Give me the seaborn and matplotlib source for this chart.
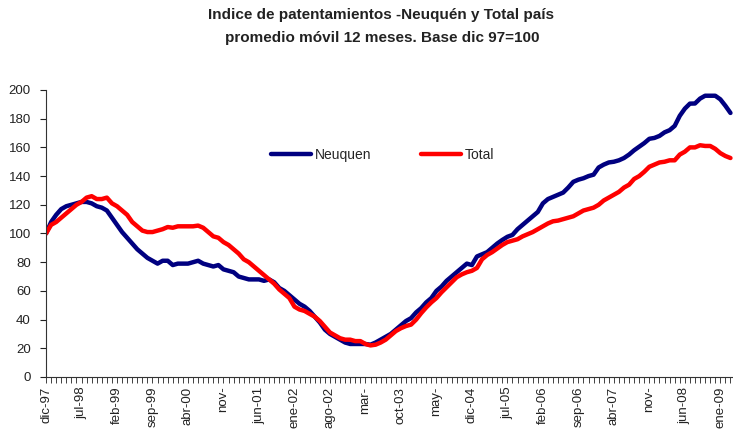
import pandas as pd
import numpy as np
import matplotlib.pyplot as plt
import seaborn as sns

sns.set_style('white')
plt.rcParams['font.family'] = ['Liberation Sans', 'DejaVu Sans']

# indice mensual, dic-97 = 100 (promedio movil 12 meses), dic-97 .. mar-09
neuquen = [100, 108, 113, 117, 119, 120, 121, 122, 122, 121, 119, 118, 116, 111, 106, 101,
           97, 93, 89, 86, 83, 81, 79, 81, 81, 78, 79, 79, 79, 80, 81, 79,
           78, 77, 78, 75, 74, 73, 70, 69, 68, 68, 68, 67, 68, 66, 62, 60,
           57, 54, 51, 49, 46, 42, 38, 33, 30, 28, 26, 24, 23, 23, 23, 23,
           22.5, 24, 26, 28, 30, 33, 36, 39, 41, 45, 48, 52, 55, 60, 63, 67,
           70, 73, 76, 79, 78, 84, 85.5, 87, 90, 93, 95.5, 97.7, 99, 103, 106, 109,
           112, 115, 121, 124, 125.5, 127, 128.5, 132, 136, 137.5, 138.5, 140, 141, 146, 148, 149.5,
           150, 151, 152.6, 155, 158, 160.5, 163, 166, 166.6, 168, 170.5, 172, 175, 182, 187, 190.5,
           190.6, 194, 196, 196, 196, 193.5, 189, 184]
total = [100, 106, 108, 111, 114, 117, 120, 122, 125, 126, 124, 124, 125, 121, 119, 116,
         113, 108, 105, 102, 101, 101, 102, 103, 104.5, 104, 105, 105, 105, 105, 105.5, 104,
         101, 98, 97, 94, 92, 89, 86, 82, 80, 77, 74, 71, 68, 65, 61, 58,
         55, 49, 47, 46, 44, 42, 39, 35, 31, 29, 27, 26, 26, 25, 25, 23,
         22, 22.5, 24, 26, 29, 32, 34, 35.5, 36.5, 40, 44.5, 48.5, 52, 55, 59, 62.5,
         66, 69.5, 71.5, 73, 74, 76, 82, 85, 87, 89.5, 92, 94, 95, 96, 98, 99.5,
         101, 103, 105, 107, 108.5, 109, 110, 111, 112, 114, 116, 117, 118, 120, 123, 125,
         127, 129, 132, 134, 138, 140, 143, 146.5, 148, 149.5, 150, 151, 151, 155, 157, 160,
         160, 161.5, 161, 161, 159, 156, 154, 152.6]
tick_labels = ['dic-97', 'jul-98', 'feb-99', 'sep-99', 'abr-00', 'nov-', 'jun-01', 'ene-02',
               'ago-02', 'mar-', 'oct-03', 'may-', 'dic-04', 'jul-05', 'feb-06', 'sep-06',
               'abr-07', 'nov-', 'jun-08', 'ene-09']

n = len(neuquen)
df = pd.DataFrame({
    'mes': list(range(n)) * 2,
    'indice': neuquen + total,
    'serie': ['Neuquen'] * n + ['Total'] * n,
})

fig = plt.figure(figsize=(7.33, 4.30), dpi=100)
ax = fig.add_axes([0.0628, 0.1233, 0.9372, 0.6674])

sns.lineplot(data=df, x='mes', y='indice', hue='serie',
             palette={'Neuquen': '#000080', 'Total': '#FF0000'},
             linewidth=3.2, ax=ax)

ax.set_xlim(0, n - 0.5)
ax.set_ylim(0, 200)
ax.set_yticks(range(0, 201, 20))
ax.set_xticks(range(0, n, 7))
ax.set_xticklabels(tick_labels, rotation=90, fontsize=9.5)
ax.set_xticks(range(n), minor=True)
ax.tick_params(axis='y', labelsize=9.5, length=4, width=0.8, direction='out', left=True, pad=7, colors='#222222')
ax.tick_params(axis='x', which='both', length=4, width=0.6, direction='out', bottom=True, pad=3, colors='#222222')
ax.set_xlabel('')
ax.set_ylabel('')
for s in ['top', 'right']:
    ax.spines[s].set_visible(False)
for s in ['left', 'bottom']:
    ax.spines[s].set_color('#333333')
    ax.spines[s].set_linewidth(0.8)

ax.legend(ncol=2, frameon=False, loc='center', bbox_to_anchor=(0.49, 0.775),
          fontsize=10, handlelength=2.9, columnspacing=3.6, handletextpad=0.25)

fig.text(0.52, 0.965, 'Indice de patentamientos -Neuquén y Total país', ha='center', va='center',
         fontsize=11, fontweight='bold', color='#222222')
fig.text(0.522, 0.912, 'promedio móvil 12 meses. Base dic 97=100', ha='center', va='center',
         fontsize=11, fontweight='bold', color='#222222')

plt.savefig('out.png', dpi=100)
plt.close()
